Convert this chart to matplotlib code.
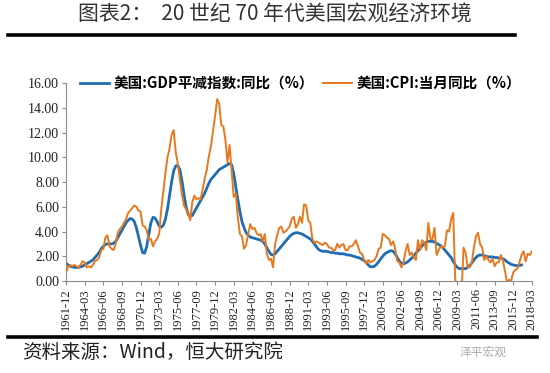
import matplotlib
matplotlib.use("Agg")
import matplotlib.pyplot as plt
import numpy as np

plt.rcParams['font.family'] = ['Noto Sans CJK SC', 'DejaVu Sans']

# quarterly values, first point is 1961-12, then Mar/Jun/Sep/Dec of each year
start_year, start_month = 1961, 12

gdp_deflator = [
    1.45,
    1.3, 1.2, 1.15, 1.1,      # 1962
    1.1, 1.1, 1.15, 1.2,      # 1963
    1.3, 1.4, 1.5, 1.6,       # 1964
    1.7, 1.9, 2.1, 2.3,       # 1965
    2.6, 2.8, 2.95, 3.0,      # 1966
    3.0, 3.0, 3.05, 3.2,      # 1967
    3.5, 3.8, 4.1, 4.4,       # 1968
    4.7, 4.9, 5.05, 5.0,      # 1969
    4.8, 4.3, 3.6, 2.9,       # 1970
    2.3, 2.25, 2.8, 3.8,      # 1971
    4.7, 5.15, 5.1, 4.8,      # 1972
    4.45, 4.35, 4.5, 5.0,     # 1973
    5.8, 6.9, 8.0, 8.9,       # 1974
    9.3, 9.35, 9.0, 8.1,      # 1975
    7.0, 6.0, 5.4, 5.2,       # 1976
    5.3, 5.6, 5.9, 6.2,       # 1977
    6.5, 6.8, 7.1, 7.5,       # 1978
    7.9, 8.2, 8.4, 8.6,       # 1979
    8.8, 9.0, 9.1, 9.2,       # 1980
    9.3, 9.4, 9.5, 9.4,       # 1981
    8.7, 7.6, 6.6, 5.6,       # 1982
    4.8, 4.3, 3.9, 3.7,       # 1983
    3.55, 3.5, 3.45, 3.4,     # 1984
    3.35, 3.3, 3.2, 3.0,      # 1985
    2.7, 2.4, 2.15, 2.1,      # 1986
    2.2, 2.4, 2.6, 2.8,       # 1987
    3.0, 3.2, 3.4, 3.6,       # 1988
    3.75, 3.85, 3.9, 3.9,     # 1989
    3.85, 3.8, 3.7, 3.6,      # 1990
    3.5, 3.4, 3.2, 3.0,       # 1991
    2.75, 2.55, 2.45, 2.4,    # 1992
    2.4, 2.4, 2.35, 2.3,      # 1993
    2.3, 2.25, 2.25, 2.2,     # 1994
    2.2, 2.2, 2.15, 2.1,      # 1995
    2.1, 2.05, 2.0, 1.95,     # 1996
    1.9, 1.85, 1.75, 1.65,    # 1997
    1.5, 1.3, 1.15, 1.15,     # 1998
    1.2, 1.35, 1.55, 1.8,     # 1999
    2.0, 2.2, 2.3, 2.4,       # 2000
    2.45, 2.4, 2.2, 1.9,      # 2001
    1.6, 1.45, 1.4, 1.45,     # 2002
    1.55, 1.7, 1.85, 2.05,    # 2003
    2.25, 2.45, 2.65, 2.85,   # 2004
    3.0, 3.15, 3.2, 3.2,      # 2005
    3.2, 3.15, 3.05, 2.95,    # 2006
    2.85, 2.7, 2.5, 2.3,      # 2007
    2.1, 1.9, 1.6, 1.3,       # 2008
    1.1, 1.0, 1.0, 1.0,       # 2009
    1.0, 1.1, 1.25, 1.45,     # 2010
    1.7, 1.9, 2.05, 2.1,      # 2011
    2.1, 2.05, 2.0, 1.95,     # 2012
    1.95, 1.95, 1.9, 1.9,     # 2013
    1.85, 1.85, 1.8, 1.7,     # 2014
    1.55, 1.45, 1.35, 1.3,    # 2015
    1.25, 1.25, 1.25, 1.3,    # 2016
]

cpi = [
    0.7,
    1.1, 1.3, 1.2, 1.3,       # 1962
    1.2, 1.1, 1.3, 1.6,       # 1963
    1.5, 1.1, 1.2, 1.1,       # 1964
    1.3, 1.6, 1.7, 1.9,       # 1965
    2.5, 2.6, 3.5, 3.7,       # 1966
    2.8, 2.6, 2.5, 3.0,       # 1967
    3.9, 4.2, 4.4, 4.7,       # 1968
    5.0, 5.5, 5.7, 5.9,       # 1969
    6.1, 6.0, 5.7, 5.6,       # 1970
    4.5, 4.4, 4.1, 3.3,       # 1971
    3.4, 2.8, 3.2, 3.4,       # 1972
    3.8, 5.8, 7.2, 8.7,       # 1973
    10.0, 10.7, 11.8, 12.2,   # 1974
    10.4, 9.5, 8.2, 7.0,      # 1975
    6.1, 5.8, 5.5, 4.9,       # 1976
    6.4, 6.9, 6.6, 6.7,       # 1977
    6.6, 7.4, 8.3, 9.0,       # 1978
    10.1, 10.9, 12.1, 13.3,   # 1979
    14.7, 14.3, 12.6, 12.5,   # 1980
    11.4, 9.6, 11.0, 8.9,     # 1981
    6.8, 7.1, 5.1, 3.8,       # 1982
    3.6, 2.6, 2.9, 3.8,       # 1983
    4.6, 4.2, 4.3, 3.9,       # 1984
    3.7, 3.8, 3.2, 3.8,       # 1985
    2.2, 1.7, 1.8, 1.1,       # 1986
    3.0, 3.7, 4.3, 4.4,       # 1987
    3.9, 4.0, 4.2, 4.4,       # 1988
    5.0, 5.2, 4.3, 4.6,       # 1989
    5.2, 4.7, 6.2, 6.1,       # 1990
    4.9, 4.7, 3.4, 3.1,       # 1991
    3.2, 3.1, 3.0, 2.9,       # 1992
    3.1, 3.0, 2.7, 2.7,       # 1993
    2.5, 2.5, 3.0, 2.7,       # 1994
    2.9, 3.0, 2.5, 2.5,       # 1995
    2.8, 2.8, 3.0, 3.3,       # 1996
    2.8, 2.3, 2.2, 1.7,       # 1997
    1.4, 1.7, 1.5, 1.6,       # 1998
    1.7, 2.0, 2.6, 2.7,       # 1999
    3.8, 3.7, 3.5, 3.4,       # 2000
    2.9, 3.2, 2.6, 1.6,       # 2001
    1.5, 1.1, 1.5, 2.4,       # 2002
    3.0, 2.1, 2.3, 1.9,       # 2003
    1.7, 3.3, 2.5, 3.3,       # 2004
    3.1, 2.5, 4.7, 3.4,       # 2005
    3.4, 4.3, 2.1, 2.5,       # 2006
    2.8, 2.7, 2.8, 4.1,       # 2007
    4.0, 5.0, 5.5, 0.1,       # 2008
    -0.4, -1.4, -1.3, 2.7,    # 2009
    2.3, 1.1, 1.1, 1.5,       # 2010
    2.7, 3.6, 3.9, 3.0,       # 2011
    2.7, 1.7, 2.0, 1.7,       # 2012
    1.5, 1.8, 1.2, 1.5,       # 2013
    1.5, 2.1, 1.7, 0.8,       # 2014
    -0.1, 0.1, 0.0, 0.7,      # 2015
    0.9, 1.0, 1.5, 2.1,       # 2016
    2.4, 1.6, 2.2, 2.1,       # 2017
    2.4,                      # 2018
]

title = '图表2：  20 世纪 70 年代美国宏观经济环境'
label_gdp = '美国:GDP平减指数:同比（%）'
label_cpi = '美国:CPI:当月同比（%）'
source = '资料来源：Wind，恒大研究院'

blue = '#1f6db2'
orange = '#e8781e'

# month offsets from 1961-12
m_gdp = np.arange(len(gdp_deflator)) * 3
m_cpi = np.arange(len(cpi)) * 3

fig = plt.figure(figsize=(5.5, 3.73), dpi=100)
ax = fig.add_axes([0.12, 0.2466, 0.847, 0.5308])

ax.plot(m_gdp, gdp_deflator, color=blue, lw=2.0, label=label_gdp, zorder=2)
ax.plot(m_cpi, cpi, color=orange, lw=1.4, label=label_cpi, zorder=3)

ax.set_ylim(0, 16)
ax.set_xlim(0, 675)
ax.set_yticks(np.arange(0, 16.01, 2))
ax.set_yticklabels([f'{v:.2f}' for v in np.arange(0, 16.01, 2)],
                   family='Liberation Serif', fontsize=10)

ticks = np.arange(0, 676, 27)
tick_labels = []
for t in ticks:
    total = start_year * 12 + (start_month - 1) + t
    tick_labels.append(f'{total // 12}-{total % 12 + 1:02d}')
ax.set_xticks(ticks)
ax.set_xticklabels(tick_labels, rotation=90, family='Liberation Serif',
                   fontsize=9)

for s in ['top', 'right']:
    ax.spines[s].set_visible(False)
for s in ['left', 'bottom']:
    ax.spines[s].set_color('#8c8c8c')
ax.tick_params(axis='both', direction='out', color='#8c8c8c', length=3,
               pad=2, labelcolor='#222222')

leg = ax.legend(loc='center left', bbox_to_anchor=(0.03, 1.0), ncol=2,
                frameon=False, handlelength=2.0, borderpad=0,
                borderaxespad=0, columnspacing=0.6, handletextpad=0.3,
                prop={'family': ['Noto Sans CJK SC', 'DejaVu Sans'],
                      'weight': 'bold', 'size': 10.5})

fig.text(0.5, 0.96, title, ha='center', va='center', fontsize=15,
         color='#333333')
fig.add_artist(plt.Line2D([0.015, 0.936], [0.906, 0.906], color='black',
                          lw=2.6, transform=fig.transFigure))
fig.add_artist(plt.Line2D([0.015, 0.976], [0.097, 0.097], color='black',
                          lw=2.6, transform=fig.transFigure))
fig.text(0.04, 0.054, source, ha='left', va='center', fontsize=14,
         style='italic', color='#222222')
fig.text(0.92, 0.056, '泽平宏观', ha='right', va='center', fontsize=8.5,
         color='#aaaaaa')

fig.savefig('out.png', dpi=100)
